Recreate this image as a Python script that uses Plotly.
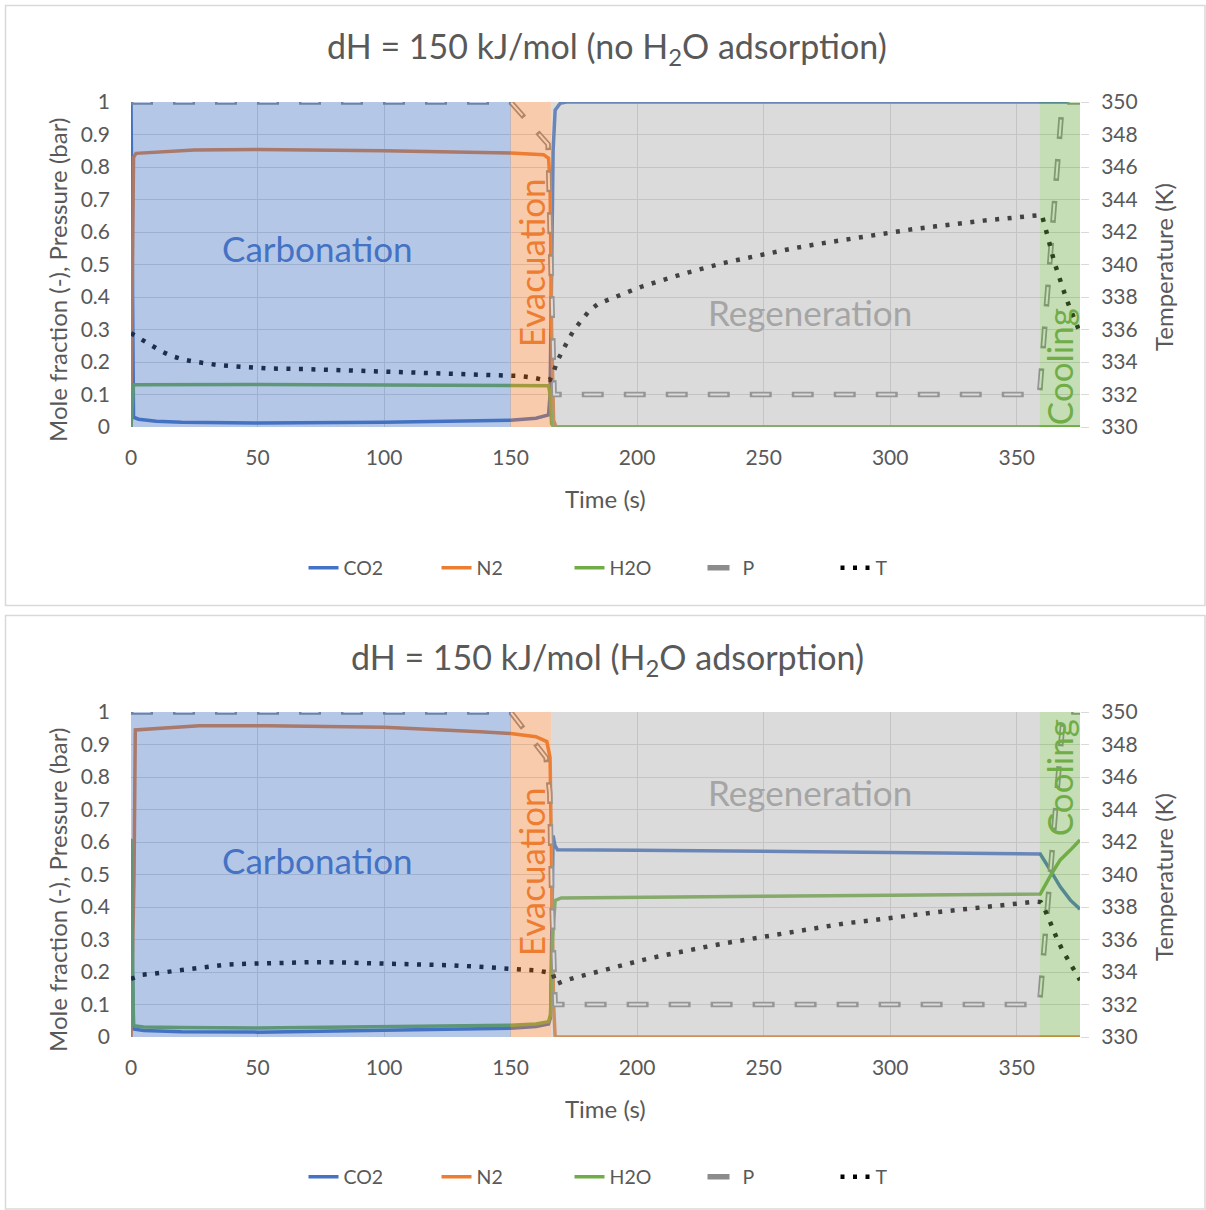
import plotly.graph_objects as go

W, H = 1206, 1210


def fx(px):
    return px / W


def fy(py):
    return 1 - py / H


# ---------------- DATA: top chart (no H2O adsorption) ----------------
co2_t_top = [0, 0.5, 1, 3, 10, 20, 50, 100, 138, 150, 160, 165, 165.6, 166.2, 166.8, 167.6, 169.6, 172, 375]
co2_top = [1, 0.5, 0.03, 0.024, 0.018, 0.015, 0.012, 0.015, 0.019, 0.021, 0.027, 0.037, 0.1, 0.5, 0.85, 0.975, 0.996, 1, 1]

n2_t_top = [0, 0.5, 1, 2, 25, 50, 100, 150, 163, 165, 165.6, 166.2, 167, 168, 375]
n2_top = [0, 0.45, 0.83, 0.842, 0.852, 0.854, 0.85, 0.843, 0.838, 0.827, 0.75, 0.3, 0.02, 0, 0]

h2o_t_top = [0, 0.5, 1, 50, 100, 150, 165, 165.6, 166.2, 167, 375]
h2o_top = [0, 0.07, 0.13, 0.131, 0.13, 0.129, 0.127, 0.1, 0.01, 0, 0]

p_t_top = [0, 150, 164.8, 165.5, 166, 166.5, 167.2, 359, 368, 375]
p_top = [1, 1, 0.87, 0.65, 0.48, 0.3, 0.1, 0.1, 1, 1]

t_t_top = [0, 4, 8, 12, 16, 21, 26, 30, 35, 44, 54, 68, 82, 96, 111, 125, 139, 148.5, 153.5, 158,
           162.5, 165.5, 167, 168.5, 170.5, 172.9, 175.2, 178.1, 181.1, 184.7, 189.1, 193.3, 197.9,
           202.2, 206.8, 211.3, 215.8, 220.4, 225, 234.1, 243.3, 252.6, 261.8, 271.3, 280.6, 290.1,
           299.3, 308.7, 318, 327.4, 336.9, 346.1, 355.6, 359.9, 361.2, 362.6, 363.6, 364.8, 366.1,
           367.6, 369.2, 370.8, 372.5, 374.2, 375]
temp_top = [335.77, 335.4, 335.0, 334.66, 334.37, 334.14, 334.0, 333.88, 333.8, 333.7, 333.6, 333.57,
            333.5, 333.46, 333.4, 333.34, 333.24, 333.16, 333.14, 333.06, 332.92, 332.9, 333.4, 334.08,
            334.74, 335.4, 336.01, 336.63, 337.16, 337.59, 337.88, 338.14, 338.4, 338.66, 338.9, 339.1,
            339.31, 339.52, 339.72, 340.09, 340.4, 340.73, 341.0, 341.26, 341.5, 341.75, 341.98, 342.17,
            342.35, 342.54, 342.70, 342.84, 343.0, 343.05, 342.33, 341.6, 340.9, 340.17, 339.5, 338.8,
            338.08, 337.4, 336.69, 336.03, 335.8]

# ---------------- DATA: bottom chart (H2O adsorption) ----------------
co2_t_bot = [0, 0.5, 1, 5, 20, 50, 100, 150, 160, 165, 165.8, 166.3, 166.8, 167.5, 168.5, 200, 250, 300,
             359.3, 363.2, 367.2, 371.2, 375]
co2_bot = [0.39, 0.2, 0.025, 0.02, 0.016, 0.015, 0.02, 0.027, 0.032, 0.04, 0.06, 0.4, 0.62, 0.59, 0.576,
           0.575, 0.571, 0.567, 0.563, 0.514, 0.462, 0.421, 0.393]

n2_t_bot = [0, 1.2, 1.7, 27, 54, 100, 138, 150, 160, 164.3, 165.6, 166.2, 167, 167.6, 375]
n2_bot = [0, 0.5, 0.945, 0.958, 0.958, 0.953, 0.939, 0.934, 0.924, 0.909, 0.86, 0.5, 0.1, 0, 0]

h2o_t_bot = [0, 0.5, 1, 5, 20, 50, 100, 150, 160, 165, 165.8, 166.5, 167.6, 170, 250, 359.3, 363.9,
             367.2, 371.2, 375]
h2o_bot = [0.61, 0.3, 0.035, 0.031, 0.029, 0.028, 0.031, 0.036, 0.04, 0.047, 0.07, 0.3, 0.42, 0.428,
           0.433, 0.44, 0.504, 0.545, 0.575, 0.606]

p_t_bot = [0, 150, 164, 165.5, 166.2, 167, 167.6, 359, 368.5, 375]
p_bot = [1, 1, 0.86, 0.75, 0.45, 0.2, 0.1, 0.1, 1, 1]

t_t_bot = [0, 4.2, 8.9, 13.6, 18.3, 23, 27.6, 32.4, 37.2, 41.9, 46.5, 51.3, 60.7, 70.2, 79.7, 89.2,
           98.7, 108.2, 117.6, 127.1, 136.5, 146, 150.6, 155.3, 160.1, 164.5, 166.7, 167.9, 171.1,
           175.8, 180.4, 184.8, 189.4, 194, 198.7, 203.3, 207.9, 217.1, 226.3, 235.8, 245, 254.4,
           263.7, 273.1, 282.4, 291.8, 301.2, 310.5, 320, 329.3, 338.7, 348.2, 357.6, 359.5, 360.6,
           362.6, 364.3, 366.1, 368.2, 370.5, 372.8, 375]
temp_bot = [333.57, 333.83, 333.9, 334.0, 334.1, 334.2, 334.29, 334.37, 334.45, 334.49, 334.51, 334.55,
            334.6, 334.6, 334.6, 334.57, 334.55, 334.51, 334.47, 334.41, 334.33, 334.25, 334.2, 334.17,
            334.1, 333.98, 333.92, 333.24, 333.45, 333.67, 333.86, 334.08, 334.27, 334.43, 334.62,
            334.78, 334.94, 335.25, 335.52, 335.8, 336.05, 336.3, 336.52, 336.75, 337.0, 337.16, 337.37,
            337.53, 337.71, 337.88, 338.02, 338.18, 338.33, 338.3, 338.02, 337.3, 336.63, 335.97,
            335.31, 334.68, 334.02, 333.5]

# phases
phase_names = ["Carbonation", "Evacuation", "Regeneration", "Cooling"]
phase_start = [0, 150, 166, 359]
phase_end = [150, 166, 359, 375]

titles = ["dH = 150 kJ/mol (no H<sub>2</sub>O adsorption)", "dH = 150 kJ/mol (H<sub>2</sub>O adsorption)"]
x_ticks = [0, 50, 100, 150, 200, 250, 300, 350]

# ---------------- STYLE ----------------
FONT = "Lato"
TXT = "#595959"
GRID = "#D9D9D9"
C_CO2, C_N2, C_H2O, C_P, C_T = "#4472C4", "#ED7D31", "#70AD47", "#8C8C8C", "#000000"
phase_fill = ["rgba(68,114,196,0.4)", "rgba(237,125,49,0.4)", "rgba(165,165,165,0.4)", "rgba(112,173,71,0.4)"]
phase_text = ["#4472C4", "#ED7D31", "#A5A5A5", "#70AD47"]

fig = go.Figure()

charts = [
    dict(xa="x", ya="y", ya2="y3", legend="legend",
         co2=(co2_t_top, co2_top), n2=(n2_t_top, n2_top), h2o=(h2o_t_top, h2o_top),
         p=(p_t_top, p_top), T=(t_t_top, temp_top)),
    dict(xa="x2", ya="y2", ya2="y4", legend="legend2",
         co2=(co2_t_bot, co2_bot), n2=(n2_t_bot, n2_bot), h2o=(h2o_t_bot, h2o_bot),
         p=(p_t_bot, p_bot), T=(t_t_bot, temp_bot)),
]

for ch in charts:
    common = dict(xaxis=ch["xa"], legend=ch["legend"], mode="lines", hoverinfo="skip")
    fig.add_trace(go.Scatter(x=ch["co2"][0], y=ch["co2"][1], name="CO2", yaxis=ch["ya"],
                             line=dict(color=C_CO2, width=3.5), **common))
    fig.add_trace(go.Scatter(x=ch["n2"][0], y=ch["n2"][1], name="N2", yaxis=ch["ya"],
                             line=dict(color=C_N2, width=3.5), **common))
    fig.add_trace(go.Scatter(x=ch["h2o"][0], y=ch["h2o"][1], name="H2O", yaxis=ch["ya"],
                             line=dict(color=C_H2O, width=3.5), **common))
    fig.add_trace(go.Scatter(x=ch["p"][0], y=ch["p"][1], name="P", yaxis=ch["ya"],
                             line=dict(color=C_P, width=5.5, dash="22px,20px"), **common))
    fig.add_trace(go.Scatter(x=ch["p"][0], y=ch["p"][1], name="P", yaxis=ch["ya"], showlegend=False,
                             line=dict(color="#FFFFFF", width=2, dash="0px,2.5px,17px,22.5px"), **common))
    fig.add_trace(go.Scatter(x=ch["T"][0], y=ch["T"][1], name="T", yaxis=ch["ya2"],
                             line=dict(color=C_T, width=4.5, dash="4px,8.5px"), **common))

tickfont = dict(family=FONT, size=21, color=TXT)
xa_common = dict(range=[0, 375], tickvals=x_ticks, showgrid=True, gridcolor=GRID, gridwidth=1,
                 zeroline=False, showline=False, ticks="", tickfont=tickfont, ticklabelstandoff=16,
                 automargin=False)
ya_common = dict(range=[0, 1], dtick=0.1, tick0=0, showgrid=True, gridcolor=GRID, gridwidth=1,
                 zeroline=False, showline=False, ticks="", tickfont=tickfont, ticklabelstandoff=20,
                 automargin=False)
yr_common = dict(range=[330, 350], dtick=2, tick0=330, showgrid=False, zeroline=False, showline=False,
                 side="right", ticks="outside", ticklen=8, tickcolor=GRID, tickfont=tickfont,
                 ticklabelstandoff=8, automargin=False)

dom_x = [fx(131), fx(1080)]
fig.update_layout(
    xaxis=dict(domain=dom_x, anchor="y", **xa_common),
    yaxis=dict(domain=[fy(427), fy(102)], anchor="x", **ya_common),
    yaxis3=dict(overlaying="y", anchor="x", **yr_common),
    xaxis2=dict(domain=dom_x, anchor="y2", **xa_common),
    yaxis2=dict(domain=[fy(1037), fy(712)], anchor="x2", **ya_common),
    yaxis4=dict(overlaying="y2", anchor="x2", **yr_common),
)

shapes = []
annotations = []
# chart frames
for (top, bot) in [(5.5, 605.5), (615.5, 1209)]:
    shapes.append(dict(type="rect", xref="paper", yref="paper", x0=fx(5.5), x1=fx(1205), y0=fy(bot),
                       y1=fy(top), line=dict(color=GRID, width=1.5), fillcolor="rgba(0,0,0,0)", layer="below"))

label_pos = [
    # (x data, y data, angle)
    [(73.5, 0.55, 0), (158.2, 0.505, -90), (268.4, 0.354, 0), (366.8, 0.185, -90)],
    [(73.5, 0.545, 0), (158.2, 0.508, -90), (268.4, 0.754, 0), (366.8, 0.797, -90)],
]
title_y = [48, 659]
xtitle_y = [498, 1108]
left_title_y = [280, 890]
right_title_y = [267, 877]

for i, ch in enumerate(charts):
    xr = ch["xa"]
    yr = ch["ya"]
    for k in range(4):
        shapes.append(dict(type="rect", xref=xr, yref=yr + " domain", x0=phase_start[k], x1=phase_end[k],
                           y0=0, y1=1, fillcolor=phase_fill[k], line=dict(width=0), layer="above"))
        lx, ly, ang = label_pos[i][k]
        annotations.append(dict(x=lx, y=ly, xref=xr, yref=yr, text=phase_names[k], textangle=ang,
                                showarrow=False, font=dict(family=FONT, size=35, color=phase_text[k])))
    annotations.append(dict(x=fx(607), y=fy(title_y[i]), xref="paper", yref="paper", text=titles[i],
                            showarrow=False, xanchor="center", yanchor="middle",
                            font=dict(family=FONT, size=34, color=TXT)))
    annotations.append(dict(x=fx(605), y=fy(xtitle_y[i]), xref="paper", yref="paper", text="Time (s)",
                            showarrow=False, xanchor="center", yanchor="middle",
                            font=dict(family=FONT, size=24, color=TXT)))
    annotations.append(dict(x=fx(57), y=fy(left_title_y[i]), xref="paper", yref="paper",
                            text="Mole fraction (-), Pressure (bar)", textangle=-90,
                            showarrow=False, xanchor="center", yanchor="middle",
                            font=dict(family=FONT, size=24, color=TXT)))
    annotations.append(dict(x=fx(1163), y=fy(right_title_y[i]), xref="paper", yref="paper",
                            text="Temperature (K)", textangle=-90,
                            showarrow=False, xanchor="center", yanchor="middle",
                            font=dict(family=FONT, size=24, color=TXT)))

legend_common = dict(orientation="h", xanchor="center", yanchor="middle", bgcolor="rgba(0,0,0,0)",
                     font=dict(family=FONT, size=19.5, color=TXT), entrywidth=88, entrywidthmode="pixels")

fig.update_layout(
    width=W, height=H, autosize=False,
    margin=dict(l=0, r=0, t=0, b=0, pad=0, autoexpand=False),
    paper_bgcolor="white", plot_bgcolor="white",
    font=dict(family=FONT, color=TXT),
    shapes=shapes, annotations=annotations,
    legend=dict(x=fx(636), y=fy(568), **legend_common),
    legend2=dict(x=fx(636), y=fy(1177), **legend_common),
    showlegend=True,
)

fig.write_html("out.html")
